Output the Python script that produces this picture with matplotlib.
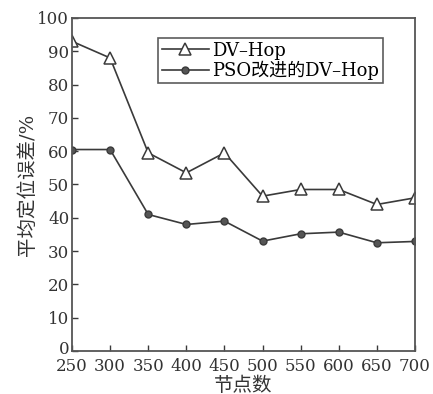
import matplotlib
matplotlib.use("Agg")
import matplotlib.pyplot as plt
import matplotlib.transforms as mtransforms

nodes = [250, 300, 350, 400, 450, 500, 550, 600, 650, 700]
dv_hop = [93, 88, 59.5, 53.5, 59.5, 46.5, 48.5, 48.5, 44, 46]
pso_dv_hop = [60.5, 60.5, 41, 38, 39, 33, 35.2, 35.7, 32.5, 32.9]
yticks = [0, 10, 20, 30, 40, 50, 60, 70, 80, 90, 100]

plt.rcParams['font.family'] = ['DejaVu Serif', 'Noto Sans CJK SC']
plt.rcParams['axes.unicode_minus'] = False

fig = plt.figure(figsize=(4.33, 3.94), dpi=100)
ax = fig.add_axes([72/433, 1-351/394, (415-72)/433, (351-18)/394])

c = '#3a3a3a'
ax.plot(nodes, dv_hop, color=c, lw=1.2, marker='^', ms=8, mfc='white', mec=c, mew=1.1, label='DV–Hop')
ax.plot(nodes, pso_dv_hop, color=c, lw=1.2, marker='o', ms=5, mfc='#555555', mec=c, label='PSO改进的DV–Hop')

ax.set_xlim(250, 700)
ax.set_ylim(0, 100)
ax.set_xticks(nodes)
ax.set_yticks(yticks)
ax.tick_params(direction='in', length=4, width=1, labelsize=12, colors=c, labelcolor='#333333')
ax.tick_params(axis='x', pad=5)
ax.tick_params(axis='y', pad=2)
for s in ax.spines.values():
    s.set_color('#555555')
    s.set_linewidth(1.3)

fig.canvas.draw()
lbl0 = ax.get_yticklabels()[0]
lbl0.set_transform(lbl0.get_transform() + mtransforms.ScaledTranslation(0, 4/100, fig.dpi_scale_trans))

ax.set_xlabel('节点数', fontsize=14, labelpad=1, color='#333333')
ax.set_ylabel('平均定位误差/%', fontsize=14, labelpad=0, color='#333333')

leg = ax.legend(loc='upper left', bbox_to_anchor=((158-72)/343, (351-38)/333), fontsize=13, frameon=True, fancybox=False,
                edgecolor='#333333', handlelength=2.6, borderpad=0.2, borderaxespad=0, labelspacing=0.05, handletextpad=0.2)
leg.get_frame().set_linewidth(1.2)

fig.savefig('out.png', dpi=100)
